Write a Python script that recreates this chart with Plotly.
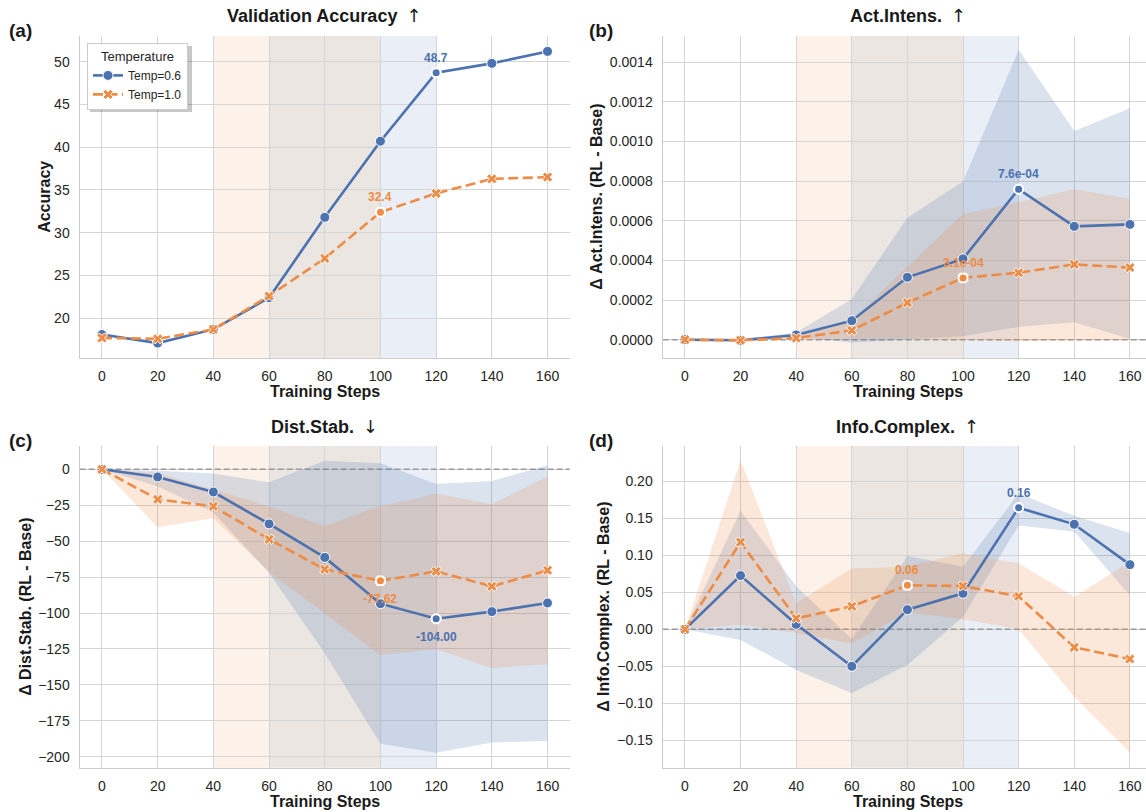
import plotly.graph_objects as go

steps = [0, 20, 40, 60, 80, 100, 120, 140, 160]
series_names = ["Temp=0.6", "Temp=1.0"]

# (a) Validation accuracy
acc_t06 = [18.1, 17.1, 18.7, 22.4, 31.8, 40.7, 48.7, 49.8, 51.2]
acc_t10 = [17.7, 17.6, 18.7, 22.6, 27.0, 32.4, 34.6, 36.3, 36.5]

# (b) Act.Intens. delta (mean, lower, upper)
act_t06 = [0.0, -0.000003, 0.000024, 0.000096, 0.000315, 0.000408, 0.00076, 0.000572, 0.000582]
act_t06_lo = [0.0, -0.000006, 0.000012, -0.000014, 0.000003, 0.000017, 0.000064, 0.000088, 0.000003]
act_t06_hi = [0.0, 0.000002, 0.000036, 0.000205, 0.000615, 0.000798, 0.001463, 0.001054, 0.001168]
act_t10 = [0.0, -0.000003, 0.000008, 0.000047, 0.000187, 0.000312, 0.000338, 0.00038, 0.000364]
act_t10_lo = [0.0, -0.000005, 0.000002, 0.000005, 0.000005, -0.000002, -0.000008, -0.000004, -0.000002]
act_t10_hi = [0.0, 0.000001, 0.000015, 0.000095, 0.00037, 0.000635, 0.000695, 0.00076, 0.000712]

# (c) Dist.Stab. delta
dist_t06 = [0, -5.3, -15.8, -38.0, -61.3, -93.5, -104.0, -99.0, -93.0]
dist_t06_lo = [0, -12, -30, -72, -128, -191, -197.2, -190, -189]
dist_t06_hi = [0, -1, -3, -9, 6, 4.2, -10.2, -8.1, 2.8]
dist_t10 = [0, -20.9, -25.8, -48.7, -69.6, -77.62, -71.0, -81.4, -70.3]
dist_t10_lo = [0, -40.3, -34.1, -71.2, -100.2, -129.4, -125.2, -138.2, -135.6]
dist_t10_hi = [0, -2.5, -14, -26, -39.4, -25.5, -16.9, -24.4, -5.1]

# (d) Info.Complex. delta
info_t06 = [0, 0.0725, 0.0067, -0.0499, 0.0265, 0.0485, 0.164, 0.1416, 0.0872]
info_t06_lo = [0, -0.0144, -0.055, -0.086, -0.048, 0.017, 0.14, 0.132, 0.046]
info_t06_hi = [0, 0.160, 0.058, -0.013, 0.099, 0.0845, 0.183, 0.153, 0.130]
info_t10 = [0, 0.1175, 0.0148, 0.031, 0.0593, 0.0584, 0.0445, -0.0243, -0.040]
info_t10_lo = [0, 0.006, -0.005, -0.019, 0.023, 0.0135, 0.0, -0.091, -0.166]
info_t10_hi = [0, 0.228, 0.035, 0.082, 0.0845, 0.1025, 0.089, 0.044, 0.091]

# phase shading (start, end)
phases = [(40, 60), (60, 100), (100, 120)]

panel_titles = ["Validation Accuracy", "Act.Intens.", "Dist.Stab.", "Info.Complex."]
panel_arrows = ["↑", "↑", "↓", "↑"]
panel_letters = ["(a)", "(b)", "(c)", "(d)"]
y_titles = ["Accuracy", "Δ Act.Intens. (RL - Base)", "Δ Dist.Stab. (RL - Base)", "Δ Info.Complex. (RL - Base)"]
y_ticks = [
    [20, 25, 30, 35, 40, 45, 50],
    [0.0, 0.0002, 0.0004, 0.0006, 0.0008, 0.0010, 0.0012, 0.0014],
    [0, -25, -50, -75, -100, -125, -150, -175, -200],
    [-0.15, -0.10, -0.05, 0.0, 0.05, 0.10, 0.15, 0.20],
]
y_fmt = [None, ".4f", None, ".2f"]

# highlighted points: (panel, series index, step, label format, above?)
highlights = [
    (0, 0, 120, "{:.1f}", True), (0, 1, 100, "{:.1f}", True),
    (1, 0, 120, "{:.1e}", True), (1, 1, 100, "{:.1e}", True),
    (2, 1, 100, "{:.2f}", False), (2, 0, 120, "{:.2f}", False),
    (3, 0, 120, "{:.2f}", True), (3, 1, 80, "{:.2f}", True),
]

BLUE = "#4c72b0"
ORANGE = "#ee8c45"
BLUE_BAND = "rgba(76,114,176,0.2)"
ORANGE_BAND = "rgba(238,140,69,0.2)"
PHASE_COLORS = ["#fcf2e9", "#ebe6e2", "#eaeff7"]
FONT = "Liberation Sans, Arial, DejaVu Sans"
W, H = 1146, 812

means = [[acc_t06, acc_t10], [act_t06, act_t10], [dist_t06, dist_t10], [info_t06, info_t10]]
lows = [[None, None], [act_t06_lo, act_t10_lo], [dist_t06_lo, dist_t10_lo], [info_t06_lo, info_t10_lo]]
highs = [[None, None], [act_t06_hi, act_t10_hi], [dist_t06_hi, dist_t10_hi], [info_t06_hi, info_t10_hi]]

# layout geometry in pixels
x_dom_px = [(79.7, 569.8), (662.7, 1146), (79.7, 569.8), (662.7, 1146)]
y_dom_px = [(36, 357.7), (36, 357.7), (446, 767.7), (446, 767.7)]
x_ranges = [[-8, 168], [-8, 165.8], [-8, 168], [-8, 165.8]]
y_ranges = [[15.39, 53.0], [-0.0000909, 0.001533], [-207.6, 16.2], [-0.1866, 0.2472]]

fig = go.Figure()
colors = [BLUE, ORANGE]
bands = [BLUE_BAND, ORANGE_BAND]

for p in range(4):
    xa = "x" if p == 0 else f"x{p+1}"
    ya = "y" if p == 0 else f"y{p+1}"
    if p > 0:
        fig.add_trace(go.Scatter(
            x=x_ranges[p], y=[0, 0], mode="lines", hoverinfo="skip", showlegend=False,
            line=dict(color="#999999", width=1.6, dash="6px,3px"), xaxis=xa, yaxis=ya))
    for s in range(2):
        if lows[p][s] is not None:
            fig.add_trace(go.Scatter(
                x=steps + steps[::-1], y=highs[p][s] + lows[p][s][::-1],
                fill="toself", fillcolor=bands[s], line=dict(width=0),
                mode="lines", hoverinfo="skip", showlegend=False, xaxis=xa, yaxis=ya))
    for s in range(2):
        fig.add_trace(go.Scatter(
            x=steps, y=means[p][s], mode="lines+markers",
            name=series_names[s], legendgroup=series_names[s], showlegend=(p == 0),
            line=dict(color=colors[s], width=2.6, dash="solid" if s == 0 else "10px,4.5px"),
            marker=dict(symbol="circle" if s == 0 else "x", size=10 if s == 0 else 9,
                        color=colors[s], line=dict(color="white", width=1)),
            xaxis=xa, yaxis=ya))

annotations = []
for (p, s, st, fmt, above) in highlights:
    xa = "x" if p == 0 else f"x{p+1}"
    ya = "y" if p == 0 else f"y{p+1}"
    idx = steps.index(st)
    v = means[p][s][idx]
    fig.add_trace(go.Scatter(
        x=[st], y=[v], mode="markers", showlegend=False, hoverinfo="skip",
        marker=dict(symbol="circle", size=9, color=colors[s], line=dict(color="white", width=2)),
        xaxis=xa, yaxis=ya))
    annotations.append(dict(
        x=st, y=v, xref=xa, yref=ya, text=fmt.format(v), showarrow=False,
        yshift=15 if above else -18, xanchor="center", yanchor="middle",
        font=dict(family=FONT, size=12, color=colors[s], weight="bold")))

shapes = []
for p in range(4):
    xa = "x" if p == 0 else f"x{p+1}"
    ya = "y" if p == 0 else f"y{p+1}"
    for (a, b), c in zip(phases, PHASE_COLORS):
        shapes.append(dict(type="rect", xref=xa, yref=f"{ya} domain", x0=a, x1=b, y0=0, y1=1,
                           fillcolor=c, line=dict(width=0), layer="below"))

layout = dict(
    width=W, height=H, margin=dict(l=0, r=0, t=0, b=0),
    paper_bgcolor="white", plot_bgcolor="white",
    font=dict(family=FONT, color="#262626"),
    showlegend=True,
    legend=dict(x=87 / W, y=1 - 43 / H, xanchor="left", yanchor="top",
                bgcolor="white", bordercolor="#cccccc", borderwidth=1,
                font=dict(family=FONT, size=12, color="#262626"),
                title=dict(text="Temperature", side="top center", font=dict(family=FONT, size=13)),
                itemwidth=30, tracegroupgap=0),
)

for p in range(4):
    xk = "xaxis" if p == 0 else f"xaxis{p+1}"
    yk = "yaxis" if p == 0 else f"yaxis{p+1}"
    xa = "x" if p == 0 else f"x{p+1}"
    ya = "y" if p == 0 else f"y{p+1}"
    x0, x1 = x_dom_px[p]
    y0, y1 = y_dom_px[p]
    layout[xk] = dict(domain=[x0 / W, x1 / W], anchor=ya, range=x_ranges[p],
                      tickvals=steps, showgrid=True, gridcolor="#d5d5d5", gridwidth=1.2,
                      zeroline=False, showline=True, linecolor="#cccccc", linewidth=1.4,
                      ticks="outside", ticklen=5, tickcolor="rgba(0,0,0,0)",
                      tickfont=dict(family=FONT, size=14, color="#262626"))
    yd = dict(domain=[1 - y1 / H, 1 - y0 / H], anchor=xa, range=y_ranges[p],
              tickvals=y_ticks[p], showgrid=True, gridcolor="#d5d5d5", gridwidth=1.2,
              zeroline=False, showline=True, linecolor="#cccccc", linewidth=1.4,
              ticks="outside", ticklen=6, tickcolor="rgba(0,0,0,0)",
              tickfont=dict(family=FONT, size=14, color="#262626"))
    if y_fmt[p]:
        yd["tickformat"] = y_fmt[p]
    layout[yk] = yd

    cx = (x0 + x1) / 2
    if p in (1, 3):
        cx = 685 + 80 * (1130 - 685) / 160
    title_text = (panel_titles[p] + "\u2002<span style='font-family:DejaVu Sans;font-weight:normal'>"
                  + panel_arrows[p] + "</span>")
    annotations.append(dict(x=cx / W, y=1 - (y0 - 20) / H, xref="paper", yref="paper",
                            text=title_text, showarrow=False, xanchor="center", yanchor="middle",
                            font=dict(family=FONT, size=18, color="#1a1a1a", weight="bold")))
    lx = 20 if p in (0, 2) else 601
    annotations.append(dict(x=lx / W, y=1 - (y0 - 6) / H, xref="paper", yref="paper",
                            text=panel_letters[p], showarrow=False, xanchor="center", yanchor="middle",
                            font=dict(family=FONT, size=19, color="#1a1a1a", weight="bold")))
    annotations.append(dict(x=cx / W, y=1 - (y1 + 34) / H, xref="paper", yref="paper",
                            text="Training Steps", showarrow=False, xanchor="center", yanchor="middle",
                            font=dict(family=FONT, size=16, color="#1a1a1a", weight="bold")))
    yx = [45, 597, 26, 604][p]
    annotations.append(dict(x=yx / W, y=1 - ((y0 + y1) / 2) / H, xref="paper", yref="paper",
                            text=y_titles[p], showarrow=False, textangle=-90,
                            xanchor="center", yanchor="middle",
                            font=dict(family=FONT, size=16, color="#1a1a1a", weight="bold")))

# legend shadow
shapes.append(dict(type="rect", xref="paper", yref="paper",
                   x0=90 / W, x1=192 / W, y0=1 - 112 / H, y1=1 - 46 / H,
                   fillcolor="rgba(0,0,0,0.22)", line=dict(width=0), layer="above"))

layout["annotations"] = annotations
layout["shapes"] = shapes
fig.update_layout(**layout)
fig.write_html("out.html", config={"displayModeBar": False},
               post_script="document.body.style.margin='0';")
